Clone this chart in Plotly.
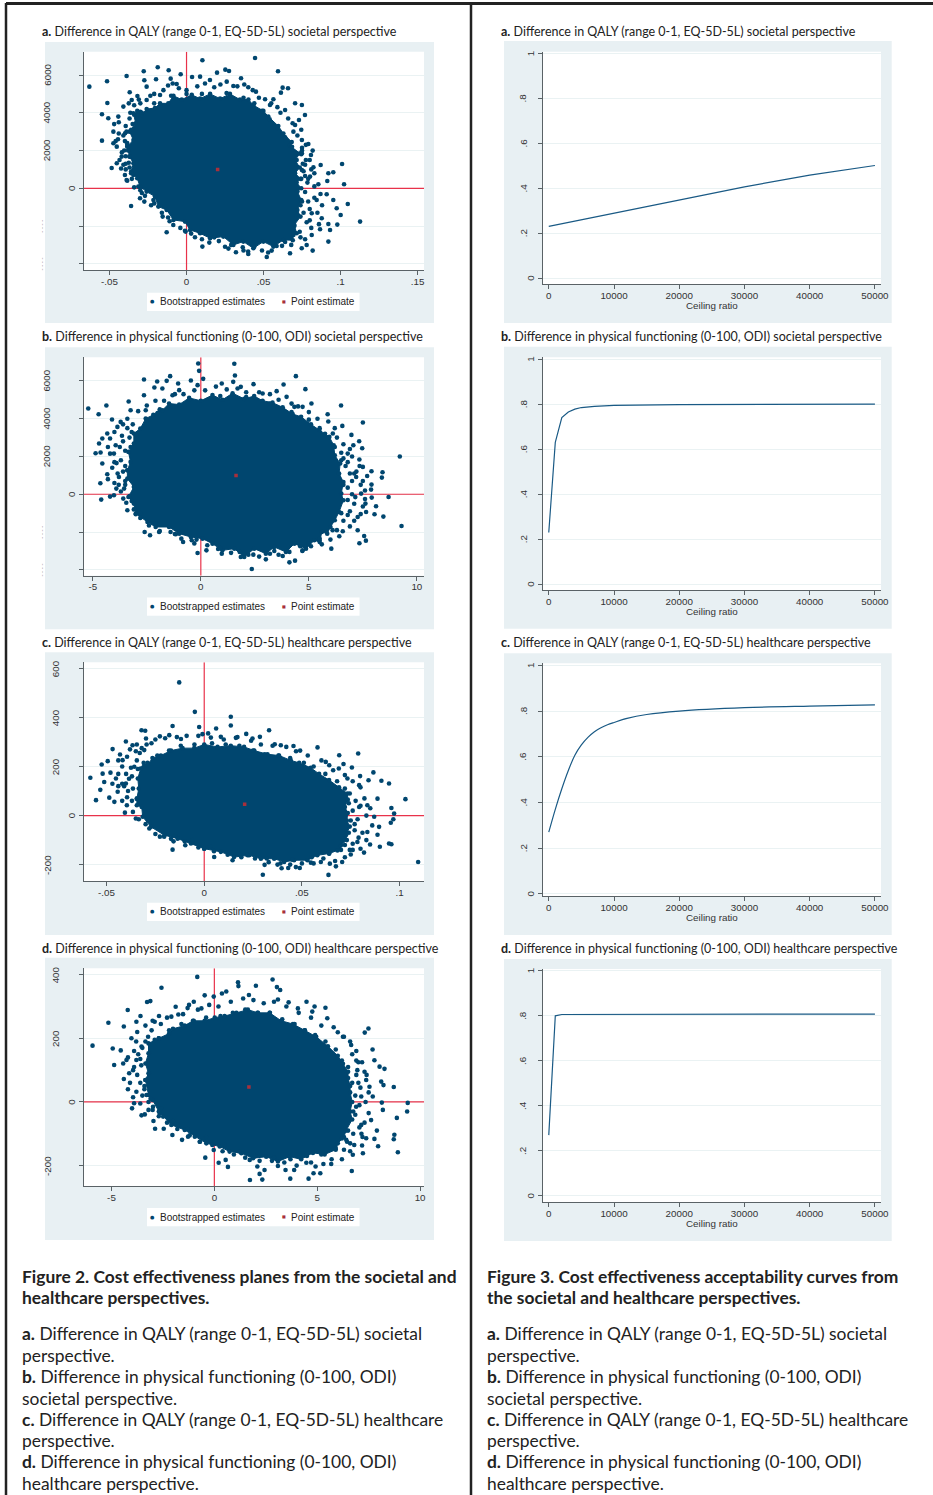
import plotly.graph_objects as go

W, H = 933, 1495
FIG_W = 941
NAVY = "#00466f"
RED = "#e8324a"
MAROON = "#a8303c"
BG = "#e8f0f3"
GRID = "#eaf2f3"
AXIS = "#5a6266"

TITLES = [
    "Difference in QALY (range 0-1, EQ-5D-5L) societal perspective",
    "Difference in physical functioning (0-100, ODI) societal perspective",
    "Difference in QALY (range 0-1, EQ-5D-5L) healthcare perspective",
    "Difference in physical functioning (0-100, ODI) healthcare perspective",
]
LETTERS = ["a.", "b.", "c.", "d."]

# ---- cost-effectiveness planes: ragged outline of the solid cloud, individual estimates, point estimate
CORE_A = [(-.0370,1678),(-.0385,2207),(-.0345,2561),(-.0370,3002),(-.0330,3444),(-.0345,3974),(-.0300,4050),(-.0291,3885),(-.0259,4200),(-.0205,4250),(-.0172,4500),(-.0118,4500),(-.0085,4900),(-.0031,4700),(.0034,4950),(.0088,4750),(.0153,5000),(.0218,4750),(.0282,5000),(.0347,4700),(.0402,4700),(.0434,4400),(.0499,4100),(.0531,3800),(.0596,3300),(.0629,2900),(.0683,2450),(.0672,2250),(.0737,1850),(.0705,1500),(.0735,1100),(.0705,800),(.0740,500),(.0715,300),(.0745,0),(.0720,-177),(.0745,-618),(.0720,-1148),(.0740,-1501),(.0700,-1943),(.0715,-2384),(.0694,-2472),(.0690,-2750),(.0629,-2737),(.0564,-3091),(.0499,-2826),(.0434,-3179),(.0369,-2826),(.0304,-3002),(.0239,-2561),(.0153,-2649),(.0088,-2384),(.0023,-2208),(-.0010,-1766),(-.0085,-1678),(-.0129,-1148),(-.0183,-971),(-.0205,-441),(-.0259,-177),(-.0302,88),(-.0320,530),(-.0360,883),(-.0345,1325)]
PTS_A = [(-.0631,5386),(-.0516,5669),(-.0514,4521),(-.0549,3920),(-.0549,2525),(-.0486,1077),(-.0389,5951),(-.0278,6199),(-.0187,6411),(-.0116,6252),(-.0038,6040),(.0103,6782),(.0198,6128),(.0252,6287),(.0276,6216),(.0445,6905),(.0594,6199),(.0624,5333),(.0659,5298),(.0613,5068),(-.0274,5722),(-.0198,5775),(-.0259,5386),(-.0369,5086),(-.0319,4892),(-.0103,5810),(-.0064,5528),(.0036,5898),(.0088,5916),(.0152,5740),(.0261,5651),(.0354,5828),(.0304,5421),(.0401,5351),(.0451,5121),(.0510,4715),(.0564,4715),(.0542,4415),(.0705,4503),(.0749,4415),(.0769,3885),(.0730,3620),(.0640,4150),(.0689,3444),(.0694,3002),(.0749,2561),(.0791,2349),(.0819,1996),(.0808,1766),(.0749,1854),(.0871,1236),(.0824,1113),(.0921,795),(.0953,848),(.1010,1289),(.1023,212),(.0914,388),(.0856,212),(.0802,618),(.0749,971),(.1047,-830),(.0953,-618),(.0910,-318),(.0845,-618),(.0975,-1060),(.1001,-1413),(.1127,-1766),(.0979,-1925),(.0921,-1890),(.0932,-2208),(.0878,-1589),(.0813,-1325),(.0867,-2172),(.0921,-2826),(.0813,-2472),(.0819,-3302),(.0780,-3002),(.0748,-3179),(.0672,-3444),(.0585,-3055),(.0521,-3638),(.0553,-3302),(.0401,-3479),(.0321,-3391),(.0365,-3126),(.0272,-3197),(.0103,-3091),(.0148,-2879),(.0055,-2596),(-.0129,-2331),(-.0006,-2296),(-.0086,-1943),(-.0155,-1501),(-.0360,-936),(-.0302,-530),(-.0274,-706),(-.0215,-618),(-.0313,88),(-.0389,441),(-.0400,706),(-.0453,1325),(-.0421,1678),(-.0475,2384),(-.0508,3708),(-.0443,3797),(-.0410,4327),(-.0356,4680),(-.0475,3002),(-.0399,2914),(-.0453,2207),(-.0259,4680),(-.0172,4945)]
FRINGE_A = [(-.0440,3500),(-.0395,3300),(-.0470,3400),(-.0440,2900),(-.0445,2600),(-.0460,2500),(-.0410,1250),(-.0395,1000),(-.0425,1050),(-.0435,1500),(-.0375,4500),(-.0340,4400),(-.0300,4500),(-.0310,4700),(-.0235,4900),(-.0210,5000),(-.0150,5200),(-.0120,5450),(-.0090,5550),(-.0050,5300),(.0000,5200),(.0070,5400),(.0120,5550),(.0180,5350),(.0220,5500),(.0330,5400),(.0375,5500),(.0430,5200),(.0470,4800),(.0550,4500),(.0590,4300),(.0610,4000),(.0660,3700),(.0705,3350),(.0745,3100),(.0720,2800),(.0775,2300),(.0750,2150),(.0800,1500),(.0770,1250),(.0830,800),(.0790,500),(.0830,100),(.0870,-300),(.0830,-500),(.0880,-900),(.0850,-1300),(.0800,-1700),(.0860,-1900),(.0810,-2100),(.0770,-2700),(.0740,-2600),(.0680,-3000),(.0620,-3050),(.0490,-3300),(.0440,-3100),(.0370,-3300),(.0290,-3000),(.0210,-2800),(.0180,-2600),(.0030,-2400),(-.0040,-2100),(-.0110,-1750),(-.0160,-1300),(-.0230,-900),(-.0270,-400),(-.0290,-250),(-.0340,50),(-.0385,400),(-.0370,3700),(-.0390,3000),(-.0400,2500),(-.0380,2000),(-.0395,1700),(-.0375,1350),(-.0370,1100),(-.0360,3100),(-.0340,3900),(-.0320,4100),(-.0365,4000),(-.0385,2300),(-.0410,2800),(-.0405,2000),(-.0420,1900),(-.0345,700),(-.0360,800),(.0775,1500),(.0760,900),(.0785,300),(.0770,-200),(.0790,-700),(.0760,-1300),(.0780,-1800),(.0735,-2300),(.0750,2000),(.0770,650),(.0750,-700),(.0800,-1100),(.0810,1000),(.0755,1300),(.0745,1800)]
BAND_A = [(.0100,5000),(.0260,5050),(.0370,4800),(.0440,4500),(.0490,4100),(.0540,3650),(.0590,3200),(.0640,2700),(.0685,2200),(.0715,1500),(.0745,500),(.0740,-900),(.0700,-2000),(.0640,-2850),(.0530,-3400),(.0400,-3350),(.0250,-3100),(.0100,-2700),(-.0010,-2250),(-.0120,-1550),(-.0210,-800),(-.0300,-100),(-.0355,500),(-.0395,1300),(-.0385,2400),(-.0350,3400),(-.0290,4000),(-.0210,4500),(-.0100,4900),(.0000,5000)]
CORE_B = [(-3.40,1272),(-3.25,1713),(-3.35,2243),(-3.10,2684),(-3.10,3214),(-2.80,3479),(-2.55,4009),(-2.20,4200),(-1.90,4500),(-1.78,4450),(-1.47,4800),(-1.00,4750),(-.54,5100),(0,4950),(.54,5250),(1.00,5000),(1.47,5350),(2.01,5050),(2.47,5200),(2.86,4950),(3.32,4850),(3.79,4600),(4.25,4250),(4.64,4100),(5.10,3700),(5.49,3400),(5.75,3200),(5.95,3038),(6.15,2596),(6.20,2066),(6.45,1625),(6.40,1095),(6.60,653),(6.50,35),(6.60,-318),(6.40,-936),(6.20,-1377),(6.00,-1731),(5.85,-2084),(5.60,-1996),(5.50,-2525),(5.25,-2437),(4.87,-2879),(4.33,-2614),(3.94,-3055),(3.40,-2790),(3.01,-3143),(2.47,-2879),(2.01,-3320),(1.55,-2879),(1.00,-2967),(.54,-2614),(.08,-2349),(-.46,-2260),(-1.00,-2084),(-1.47,-1731),(-2.09,-1731),(-2.47,-1466),(-3.01,-1024),(-3.10,-494),(-3.35,-141),(-3.10,389),(-3.40,830)]
PTS_B = [(-5.21,4539),(-4.73,4238),(-4.37,4698),(-4.11,3956),(-4.87,2172),(-4.64,2208),(-4.65,583),(-4.61,-283),(-4.20,-124),(-4.02,-53),(-3.59,-230),(-3.40,-848),(-3.01,-1060),(-2.60,-1996),(-2.35,-2172),(-1.93,-1996),(-2.63,6075),(-3.34,4910),(-2.63,5245),(-2.02,5969),(-2.15,5651),(-1.78,5598),(-1.42,6252),(-1.58,6004),(-1.05,5863),(-.46,6022),(-.12,6923),(-.08,6534),(.11,6110),(-.15,5775),(-1.0,5510),(-1.31,5245),(1.55,6905),(1.58,6287),(1.50,5951),(.97,5863),(1.85,5686),(2.44,5828),(2.86,5333),(3.51,5457),(3.83,5810),(4.40,6252),(4.84,5563),(3.97,5157),(5.12,4804),(4.71,4627),(4.33,4627),(5.87,4238),(6.49,4698),(6.55,3620),(7.50,3797),(6.97,3143),(7.33,2808),(7.47,2437),(7.06,2596),(6.11,3214),(6.80,2154),(7.34,1837),(9.21,1996),(7.90,1219),(8.41,1166),(8.38,883),(7.70,971),(7.90,512),(7.88,247),(7.19,918),(7.42,35),(8.69,-141),(7.91,-177),(8.11,-636),(7.62,-494),(8.04,-1060),(8.45,-1183),(9.29,-1678),(7.65,-936),(7.26,-1201),(7.26,-1907),(7.56,-2207),(7.64,-2455),(7.34,-2596),(6.57,-1960),(6.04,-2879),(6.41,-2225),(5.49,-2437),(5.10,-2755),(4.71,-2967),(4.36,-3514),(4.10,-3603),(3.79,-3267),(3.01,-3444),(2.36,-3956),(1.85,-3320),(2.43,-3197),(.97,-3143),(.26,-2967),(-.15,-3108),(-.82,-2525),(-.42,-2437),(-1.16,-2119),(-4.71,2684),(-4.56,2949),(-4.33,3214),(-3.86,3567),(-3.71,3832),(-3.25,4450),(-2.55,4450),(-4.56,1625),(-4.33,1060),(-3.91,300),(-3.79,918),(-4.02,2154),(-3.94,2596)]
FRINGE_B = [(-4.3,2500),(-4.2,2150),(-4.0,1700),(-4.1,1400),(-3.9,1650),(-4.3,800),(-4.0,600),(-3.7,150),(-3.45,-450),(-3.1,-800),(-2.8,-1250),(-2.4,-1650),(-1.9,-1950),(-1.4,-2000),(-.9,-2350),(-.3,-2600),(.3,-2700),(.8,-2900),(1.4,-3100),(1.8,-3050),(2.2,-3200),(2.7,-3300),(3.2,-3150),(3.6,-3200),(4.1,-3050),(4.7,-3000),(5.0,-2600),(5.6,-2650),(6.0,-2400),(6.3,-1900),(6.9,-1700),(7.1,-1400),(7.4,-1050),(7.5,-650),(7.6,-250),(7.6,200),(7.4,500),(7.5,700),(7.2,1200),(7.5,1450),(7.35,1500),(7.0,2000),(6.9,2400),(6.6,2650),(6.3,3000),(6.2,3500),(5.9,3850),(5.4,4000),(5.0,4350),(4.5,4650),(4.2,4800),(3.6,5000),(3.2,5300),(2.7,5400),(2.1,5400),(1.7,5600),(1.2,5550),(.7,5700),(.2,5500),(-.3,5500),(-.8,5300),(-1.2,5300),(-1.7,4950),(-2.1,4950),(-2.5,4700),(-2.9,4400),(-3.4,4000),(-3.6,3700),(-4.0,3300),(-4.2,2950),(-3.6,1200),(-3.7,1800),(-3.5,2300),(-3.6,2800),(-3.3,3000),(-3.4,3500),(-3.15,3700),(-3.5,700),(-3.55,300),(-3.3,-100),(-3.75,2500),(-3.85,1100),(-3.8,500),(-3.65,3100),(-3.2,3300),(6.9,1100),(7.0,700),(6.8,350),(7.0,0),(6.8,-300),(7.1,-500),(6.9,-900),(6.8,-1100),(6.6,-1400),(6.7,1500),(6.6,1900),(6.8,1700),(6.5,2200),(7.1,1100),(7.15,-150)]
BAND_B = [(-2.5,3900),(-2.0,4300),(-1.3,4650),(-.5,5000),(.9,5200),(2.1,5150),(3.2,4800),(4.2,4350),(5.0,3950),(5.5,3500),(5.9,3000),(6.2,2500),(6.5,1800),(6.6,500),(6.5,-1000),(6.1,-1900),(5.5,-2350),(4.6,-2750),(3.4,-3000),(2.0,-3150),(.9,-2850),(-.2,-2400),(-1.2,-2100),(-2.1,-1550),(-2.8,-1000),(-3.2,-350),(-3.5,500),(-3.5,1500),(-3.25,2500),(-3.0,3100)]
CORE_C = [(-.0345,69),(-.0335,110),(-.0340,151),(-.0325,192),(-.0310,215),(-.0290,205),(-.0265,235),(-.0222,245),(-.0170,265),(-.0111,275),(-.0051,275),(0,290),(.0068,280),(.0136,285),(.0204,280),(.0256,265),(.0324,250),(.0383,245),(.0443,225),(.0486,215),(.0545,195),(.0588,170),(.0639,145),(.0690,115),(.0733,90),(.0735,65),(.0720,35),(.0735,10),(.0730,-20),(.0745,-45),(.0725,-80),(.0730,-100),(.0700,-121),(.0700,-140),(.0682,-142),(.0639,-155),(.0579,-162),(.0528,-182),(.0460,-182),(.0409,-189),(.0358,-176),(.0290,-176),(.0230,-162),(.0153,-169),(.0085,-148),(0,-135),(-.0068,-114),(-.0136,-94),(-.0204,-80),(-.0273,-46),(-.0315,-5),(-.0320,35),(-.0345,42)]
PTS_C = [(-.0128,543),(-.0048,423),(.0136,403),(.0136,367),(-.0026,361),(-.0162,365),(.0061,355),(.0332,348),(-.0321,348),(-.0302,346),(-.0298,314),(-.0227,323),(-.0401,302),(-.0469,271),(-.0583,154),(-.0554,63),(-.0525,208),(-.0494,222),(-.0431,249),(-.0367,287),(-.0307,267),(-.0179,328),(-.0119,312),(-.0009,332),(.0034,318),(.0085,321),(.0162,317),(.0215,333),(.0285,321),(.0247,314),(.0361,291),(.0392,287),(.0457,284),(.0491,265),(.0580,278),(.0691,246),(.0788,253),(.0713,210),(.0756,196),(.0622,219),(.0689,192),(.0798,161),(.0866,176),(.0907,142),(.0946,131),(.0841,144),(.0793,124),(.0733,151),(.1030,67),(.0958,31),(.0972,8),(.0968,-15),(.0955,-29),(.0887,69),(.0835,42),(.0793,35),(.0870,-5),(.0895,-46),(.0887,-78),(.0835,-67),(.0849,-118),(.0899,-127),(.0946,-114),(.0958,-117),(.0818,-151),(.0784,-108),(.0750,-159),(.0706,-189),(.1095,-189),(.0674,-207),(.0636,-242),(.0643,-196),(.0597,-189),(.0546,-192),(.0489,-214),(.0469,-210),(.0430,-214),(.0396,-215),(.0375,-200),(.0309,-201),(.0300,-241),(.0222,-162),(.0145,-182),(.0051,-169),(0,-135),(-.0162,-139),(-.0157,-105),(-.0097,-121),(-.0205,-86),(-.0227,-86),(-.0281,-53),(-.0350,-12),(-.0406,12),(-.0396,42),(-.0460,56),(-.0486,73),(-.0532,105),(-.0512,137),(-.0520,171),(-.0452,151),(-.0443,97),(-.0401,131),(-.0418,226),(-.0358,199)]
FRINGE_C = [(-.0420,200),(-.0440,170),(-.0395,240),(-.0380,270),(-.0345,290),(-.0330,255),(-.0270,295),(-.0250,310),(-.0200,315),(-.0140,320),(-.0090,325),(-.0030,325),(.0020,335),(.0100,310),(.0170,320),(.0240,305),(.0290,290),(.0350,285),(.0420,280),(.0470,262),(.0530,245),(.0600,225),(.0640,205),(.0660,185),(.0720,165),(.0760,140),(.0800,115),(.0820,70),(.0850,30),(.0830,0),(.0860,-40),(.0810,-70),(.0830,-100),(.0800,-135),(.0760,-140),(.0720,-170),(.0670,-185),(.0610,-175),(.0560,-195),(.0500,-195),(.0440,-200),(.0390,-195),(.0330,-190),(.0260,-175),(.0190,-170),(.0120,-160),(.0050,-145),(-.0030,-130),(-.0100,-105),(-.0170,-95),(-.0250,-75),(-.0300,-35),(-.0335,-15),(-.0365,15),(-.0420,60),(-.0440,120),(-.0420,130),(-.0390,100),(-.0470,130),(-.0480,175),(-.0440,225),(-.0365,110),(-.0385,150),(-.0375,195),(-.0400,170),(-.0410,120),(-.0395,75),(-.0370,60),(-.0345,225),(-.0350,262),(-.0320,275),(-.0295,290),(.0775,60),(.0785,-15),(.0770,-60),(.0790,-90),(.0760,-115),(.0760,20),(.0800,40),(.0745,90),(.0770,-35),(.0745,-140)]
BAND_C = [(-.0120,285),(-.0050,290),(.0040,295),(.0110,290),(.0180,285),(.0250,265),(.0310,250),(.0380,245),(.0440,235),(.0510,215),(.0560,200),(.0620,170),(.0680,140),(.0720,110),(-.0180,265),(-.0240,245),(-.0290,215),(-.0340,190),(-.0370,160),(-.0150,-80),(-.0060,-100),(.0030,-125),(.0130,-150),(.0220,-160),(.0320,-175),(.0450,-180),(.0550,-170),(.0640,-155),(.0720,-120),(.0740,-70),(.0750,-20),(.0740,50)]
CORE_D = [(-3.35,69),(-3.20,90),(-3.35,121),(-3.20,153),(-3.20,184),(-2.90,195),(-2.70,200),(-2.20,215),(-2.01,230),(-1.44,240),(-1.04,255),(-.47,255),(.02,265),(.50,270),(1.07,280),(1.63,290),(2.12,280),(2.69,280),(3.25,255),(3.82,245),(4.39,225),(4.95,205),(5.52,175),(6.00,145),(6.25,120),(6.50,95),(6.50,75),(6.60,50),(6.60,30),(6.70,0),(6.60,-30),(6.70,-55),(6.40,-90),(6.30,-110),(6.00,-130),(5.90,-150),(5.36,-165),(4.79,-160),(4.22,-180),(3.66,-172),(3.09,-187),(2.52,-172),(1.88,-177),(1.31,-161),(.74,-156),(.26,-140),(-.39,-130),(-.95,-109),(-1.44,-88),(-2.09,-72),(-2.49,-46),(-2.70,-30),(-3.00,6),(-3.20,22)]
PTS_D = [(-5.92,177),(-5.15,249),(-4.94,168),(-4.87,116),(-4.55,162),(-4.40,237),(-4.21,289),(-3.27,314),(-3.11,317),(-2.57,359),(-1.88,299),(-3.59,270),(-3.79,252),(-4.03,200),(-4.43,121),(-4.40,72),(-4.14,90),(-3.90,-4),(-4.0,-20),(-3.54,-42),(-3.38,-39),(-2.96,-60),(-2.88,-84),(-2.46,-84),(-2.65,-36),(-2.04,-104),(-1.57,-119),(-1.28,-109),(-.71,-125),(-.44,-175),(-.03,-151),(.21,-191),(.55,-182),(.66,-204),(1.72,-182),(2.09,-203),(2.44,-214),(2.20,-226),(1.73,-245),(2.33,-244),(3.09,-201),(3.46,-214),(3.88,-214),(3.69,-241),(4.58,-241),(4.82,-224),(5.15,-224),(4.92,-203),(4.47,-191),(5.68,-195),(6.68,-217),(6.73,-166),(7.18,-137),(7.22,-161),(7.96,-139),(7.78,-116),(7.90,-90),(7.38,-114),(8.72,-117),(8.75,-103),(8.92,-158),(8.87,-50),(9.37,-30),(9.40,-3),(8.19,-25),(8.14,-2),(8.72,47),(8.22,53),(8.11,64),(8.27,104),(8.03,111),(7.78,131),(7.69,165),(7.49,231),(7.31,218),(7.18,125),(7.30,95),(6.65,179),(6.25,205),(6.0,219),(5.49,263),(5.40,296),(4.87,300),(4.76,284),(4.48,315),(4.06,294),(3.61,313),(3.20,352),(3.04,361),(2.83,385),(3.09,322),(2.02,365),(1.15,376),(1.17,364),(1.68,336),(.58,347),(.37,341),(-.03,331),(-.47,335),(-.83,393),(-1.0,315),(-1.23,305),(-.63,294),(-1.52,276),(-2.09,268),(-2.69,270),(-2.90,252),(7.54,48),(7.70,17),(7.38,69),(7.14,17),(7.62,-57),(7.14,-72),(6.89,-15),(6.41,-119),(-3.79,132),(-3.54,174),(-3.22,205),(-3.79,32),(-3.30,22),(-2.98,-15),(-4.27,132)]
FRINGE_D = [(-4.1,60),(-3.95,100),(-4.2,140),(-3.9,160),(-3.8,190),(-3.75,220),(-3.35,240),(-3.0,255),(-2.6,245),(-2.3,265),(-1.75,275),(-1.3,295),(-.8,290),(-.25,305),(.2,300),(.8,315),(1.4,325),(1.9,320),(2.4,310),(2.9,315),(3.5,300),(4.1,280),(4.7,265),(5.2,240),(5.8,235),(6.3,205),(6.6,190),(6.9,160),(7.0,125),(7.4,85),(7.5,30),(7.35,0),(7.5,-35),(7.3,-65),(7.15,-100),(7.2,-110),(6.8,-135),(6.6,-155),(6.2,-180),(5.7,-180),(5.3,-195),(4.7,-190),(4.0,-200),(3.4,-190),(2.8,-185),(2.2,-185),(1.5,-175),(.95,-165),(.4,-155),(-.1,-135),(-.7,-125),(-1.2,-105),(-1.8,-85),(-2.3,-65),(-2.7,-45),(-3.2,-25),(-3.6,-5),(-3.95,15),(-4.2,40),(-3.6,60),(-3.75,85),(-3.55,115),(-3.7,150),(-3.5,170),(-3.35,190),(-3.05,225),(-3.5,20),(-3.4,40),(-3.2,0),(-3.0,-25),(-3.9,110),(-3.6,135),(6.95,100),(7.0,60),(6.85,20),(7.05,-10),(6.85,-40),(7.05,-80),(6.75,-100),(6.6,-130),(6.3,-150),(6.9,130),(6.9,85),(7.1,45),(6.7,150),(6.45,-125)]
BAND_D = [(-2.7,200),(-2.2,225),(-1.6,245),(-1.0,255),(-.4,265),(.3,270),(.9,280),(1.5,290),(2.1,280),(2.7,280),(3.3,260),(3.9,245),(4.4,225),(4.9,210),(5.4,190),(5.9,165),(6.2,130),(6.5,110),(6.7,60),(6.75,-30),(6.5,-90),(6.2,-115),(5.9,-145),(5.2,-165),(4.5,-170),(3.7,-180),(2.9,-175),(2.0,-170),(1.2,-155),(.5,-135),(-.4,-110),(-1.3,-85),(-2.0,-60),(-2.6,-20),(-3.1,10),(-3.4,50)]
POINT_EST = [(.0202,1000),(1.63,1000),(.0207,46),(1.68,47)]

# axis settings
PLANE_XTICKS = [[-.05,0,.05,.1,.15],[-5,0,5,10],[-.05,0,.05,.1],[-5,0,5,10]]
PLANE_XTEXT = [["-.05","0",".05",".1",".15"],["-5","0","5","10"],["-.05","0",".05",".1"],["-5","0","5","10"]]
PLANE_YTICKS = [[-4000,-2000,0,2000,4000,6000],[-4000,-2000,0,2000,4000,6000],[-200,0,200,400,600],[-200,0,200,400]]
PLANE_XRANGE = [[-.0669,.1542],[-5.43,10.33],[-.0618,.1125],[-6.36,10.19]]
PLANE_YRANGE = [[-4330,7237],[-4310,7250],[-268,625],[-265,420]]
# label column per tick value
PLANE_YLABEL_X = [{0:71.7,2000:46.7,4000:46.7,6000:46.7},{0:71.7,2000:46.7,4000:46.7,6000:46.7},{-200:47.3,0:71.7,200:55.7,400:55.7,600:55.7},{-200:47.3,0:71.7,200:55.7,400:55.7}]
PLANE_PX = [(83.5,424,51.7,270),(83.5,424,357.3,575.7),(83.5,424,662.3,881.3),(83.5,424,968.3,1186.3)]
PLANE_BG = [(45,434,42,323),(45,434,347.3,629.3),(45,434,652.3,935),(45,434,957.7,1240)]
LEGEND_TOP = [292.7,597.5,902.7,1208]
LEGEND_LABELS = ["Bootstrapped estimates","Point estimate"]
TITLE_Y = [31,336.5,642,948]
CORES = [CORE_A,CORE_B,CORE_C,CORE_D]
POINTS = [PTS_A+FRINGE_A+BAND_A,PTS_B+FRINGE_B+BAND_B,PTS_C+FRINGE_C+BAND_C,PTS_D+FRINGE_D+BAND_D]

# ---- acceptability curves
CEILING_A = [0,10000,20000,30000,40000,50000]
CEAC_A = [.231,.29,.35,.407,.459,.502]
CEILING_B = [0,1000,2000,3000,4000,5000,7000,10000,20000,30000,50000]
CEAC_B = [.23,.63,.74,.765,.778,.785,.79,.795,.798,.799,.80]
CEILING_C = [0,1000,2000,3000,4000,5000,6000,7000,8000,9000,10000,12000,15000,20000,30000,40000,50000]
CEAC_C = [.27,.37,.46,.54,.607,.652,.685,.71,.727,.74,.75,.768,.785,.80,.815,.822,.827]
CEILING_D = [0,1000,2000,50000]
CEAC_D = [.27,.80,.806,.808]
CEAC_CURVES = [(CEILING_A,CEAC_A),(CEILING_B,CEAC_B),(CEILING_C,CEAC_C),(CEILING_D,CEAC_D)]
CEAC_XTICKS = [0,10000,20000,30000,40000,50000]
CEAC_YTICKS = [0,.2,.4,.6,.8,1]
CEAC_YTEXT = ["0",".2",".4",".6",".8","1"]
CEAC_YLABEL_X = [530.5,523,523,523,523,530.5]
CEAC_PX = [(542.7,881,51.7,284.3),(542.7,881,357.3,590),(542.7,881,663.3,896),(542.7,881,969,1202)]
CEAC_BG = [(504,891.7,41,323),(504,891.7,346.7,628.7),(504,891.7,653.3,935),(504,891.7,959,1241)]
CEAC_YRANGE = [[-.027,1.0087],[-.0259,1.0083],[-.0091,1.0091],[-.027,1.0082]]

CAPTION_HEAD = [["Figure 2. Cost effectiveness planes from the societal and","healthcare perspectives."],
                ["Figure 3. Cost effectiveness acceptability curves from","the societal and healthcare perspectives."]]
CAPTION_BODY = [("a.","Difference in QALY (range 0-1, EQ-5D-5L) societal"),("","perspective."),
                ("b.","Difference in physical functioning (0-100, ODI)"),("","societal perspective."),
                ("c.","Difference in QALY (range 0-1, EQ-5D-5L) healthcare"),("","perspective."),
                ("d.","Difference in physical functioning (0-100, ODI)"),("","healthcare perspective.")]
CAPTION_Y_HEAD = [1276,1297]
CAPTION_Y_BODY = [1333,1355,1376,1398,1419,1440,1461,1483]
CAPTION_X = [20,485]

TICKFONT = dict(family="Liberation Sans", size=9.8, color="#333333")
TEXTFONT = "Lato"

fig = go.Figure()
shapes, annos = [], []
layout = {}

def dom(px):
    l, r, t, b = px
    return [l/W, r/W], [1-b/H, 1-t/H]

def rect(box, color, line=None):
    l, r, t, b = box
    d = dict(type="rect", xref="paper", yref="paper", layer="below",
             x0=l/W, x1=r/W, y0=1-b/H, y1=1-t/H, fillcolor=color, line_width=0)
    if line:
        d["line"] = dict(color=line, width=1)
        d["layer"] = "above"
    shapes.append(d)

def axes(n, px, xr, yr, xt, xtxt, yt):
    dx, dy = dom(px)
    s = "" if n == 1 else str(n)
    common = dict(showline=True, linecolor=AXIS, linewidth=1, ticks="outside", ticklen=4, tickwidth=1,
                  tickcolor=AXIS, showgrid=False, zeroline=False, fixedrange=True)
    layout["xaxis"+s] = dict(domain=dx, range=xr, anchor="y"+s, tickmode="array", tickvals=xt, ticktext=xtxt,
                             tickfont=TICKFONT, ticklabelstandoff=-2, **common)
    layout["yaxis"+s] = dict(domain=dy, range=yr, anchor="x"+s, tickmode="array", tickvals=yt,
                             showticklabels=False, **{**common, "showgrid": True}, gridcolor=GRID, gridwidth=1)
    return "x"+s, "y"+s

def ylabel(xpx, yref, val, text):
    annos.append(dict(text=text, xref="paper", x=xpx/W, yref=yref, y=val, showarrow=False, textangle=-90,
                      xanchor="center", yanchor="middle", font=TICKFONT))

def title(xpx, ypx, letter, text):
    annos.append(dict(text=f"<b>{letter}</b> {text}", xref="paper", yref="paper", x=xpx/W, y=1-ypx/H,
                      xanchor="left", yanchor="middle", showarrow=False,
                      font=dict(family=TEXTFONT, size=12.5, color="#222222")))

def paper_text(xpx, ypx, text, font, anchor="left"):
    annos.append(dict(text=text, xref="paper", yref="paper", x=xpx/W, y=1-ypx/H, xanchor=anchor,
                      yanchor="middle", showarrow=False, font=font))

for i in range(4):
    rect(PLANE_BG[i], BG)
    rect(CEAC_BG[i], BG)
    rect(PLANE_PX[i], "white")
    rect(CEAC_PX[i], "white")

# planes
for i in range(4):
    n = i+1
    xa, ya = axes(n, PLANE_PX[i], PLANE_XRANGE[i], PLANE_YRANGE[i], PLANE_XTICKS[i], PLANE_XTEXT[i], PLANE_YTICKS[i])
    fig.add_trace(go.Scatter(x=PLANE_XRANGE[i], y=[0,0], xaxis=xa, yaxis=ya, mode="lines",
                             line=dict(color=RED, width=1.2), showlegend=False, hoverinfo="skip"))
    fig.add_trace(go.Scatter(x=[0,0], y=PLANE_YRANGE[i], xaxis=xa, yaxis=ya, mode="lines",
                             line=dict(color=RED, width=1.2), showlegend=False, hoverinfo="skip"))
    core = CORES[i]
    fig.add_trace(go.Scatter(x=[p[0] for p in core]+[core[0][0]], y=[p[1] for p in core]+[core[0][1]],
                             xaxis=xa, yaxis=ya, mode="lines+markers", fill="toself", fillcolor=NAVY,
                             marker=dict(color=NAVY, size=4.6), line=dict(color=NAVY, width=1),
                             showlegend=False, hoverinfo="skip"))
    pts = POINTS[i]
    fig.add_trace(go.Scatter(x=[p[0] for p in pts], y=[p[1] for p in pts], xaxis=xa, yaxis=ya, mode="markers",
                             marker=dict(color=NAVY, size=4.6), name=LEGEND_LABELS[0], showlegend=False))
    fig.add_trace(go.Scatter(x=[POINT_EST[i][0]], y=[POINT_EST[i][1]], xaxis=xa, yaxis=ya, mode="markers",
                             marker=dict(color=MAROON, size=3.5, symbol="square"), name=LEGEND_LABELS[1], showlegend=False))
    for v, xp in PLANE_YLABEL_X[i].items():
        ylabel(xp, ya, v, str(v))
    if i < 2:
        for v in (-2000, -4000):
            ylabel(41.7, ya, v, "- - - -")
            annos[-1]["font"] = dict(family="Liberation Sans", size=6, color="#8a8a8a")
    # legend box
    t = LEGEND_TOP[i]
    rect((147, 359.5, t, t+18.3), "white", line="#555555")
    cy = t+9.2
    lf = dict(family="Liberation Sans", size=10, color="#222222")
    paper_text(152.8, cy-.5, "<span style='color:%s'>●</span>" % NAVY, dict(family="DejaVu Sans", size=5, color=NAVY), "center")
    paper_text(158, cy, LEGEND_LABELS[0], lf)
    paper_text(283.5, cy-.5, "<span style='color:%s'>■</span>" % MAROON, dict(family="DejaVu Sans", size=4, color=MAROON), "center")
    paper_text(289, cy, LEGEND_LABELS[1], lf)
    title(40, TITLE_Y[i], LETTERS[i], TITLES[i])

# curves
for i in range(4):
    n = i+5
    xa, ya = axes(n, CEAC_PX[i], [-930, 50930], CEAC_YRANGE[i], CEAC_XTICKS, [str(v) for v in CEAC_XTICKS], CEAC_YTICKS)
    cx, cy = CEAC_CURVES[i]
    fig.add_trace(go.Scatter(x=cx, y=cy, xaxis=xa, yaxis=ya, mode="lines", line=dict(color="#1a5a85", width=1.2, shape="spline" if i == 2 else "linear"),
                             showlegend=False, hoverinfo="skip"))
    for v, t, xp in zip(CEAC_YTICKS, CEAC_YTEXT, CEAC_YLABEL_X):
        ylabel(xp, ya, v, t)
    paper_text(712, CEAC_PX[i][3]+21.4, "Ceiling ratio", TICKFONT, "center")
    title(499, TITLE_Y[i], LETTERS[i], TITLES[i])

# captions
capfont = dict(family=TEXTFONT, size=17.4, color="#222222")
for col in range(2):
    for yp, t in zip(CAPTION_Y_HEAD, CAPTION_HEAD[col]):
        paper_text(CAPTION_X[col], yp, f"<b>{t}</b>", capfont)
    for yp, (b, t) in zip(CAPTION_Y_BODY, CAPTION_BODY):
        paper_text(CAPTION_X[col], yp, f"<b>{b}</b> {t}" if b else t, capfont)

# page rules
for x0, y0, x1, y1, wd in [(6,3.5,W,3.5,3),(6,3,6,1495,2.5),(471,3,471,1495,2.5)]:
    shapes.append(dict(type="line", xref="paper", yref="paper", x0=x0/W, x1=x1/W, y0=1-y0/H, y1=1-y1/H,
                       line=dict(color="#222222", width=wd)))

fig.update_layout(width=FIG_W, height=H, autosize=False, margin=dict(l=0, r=0, t=0, b=0), paper_bgcolor="white",
                  plot_bgcolor="white", shapes=shapes, annotations=annos, hovermode=False, showlegend=False, **layout)
fig.write_html("out.html", config=dict(displayModeBar=False),
               post_script="document.body.style.margin='0';")
